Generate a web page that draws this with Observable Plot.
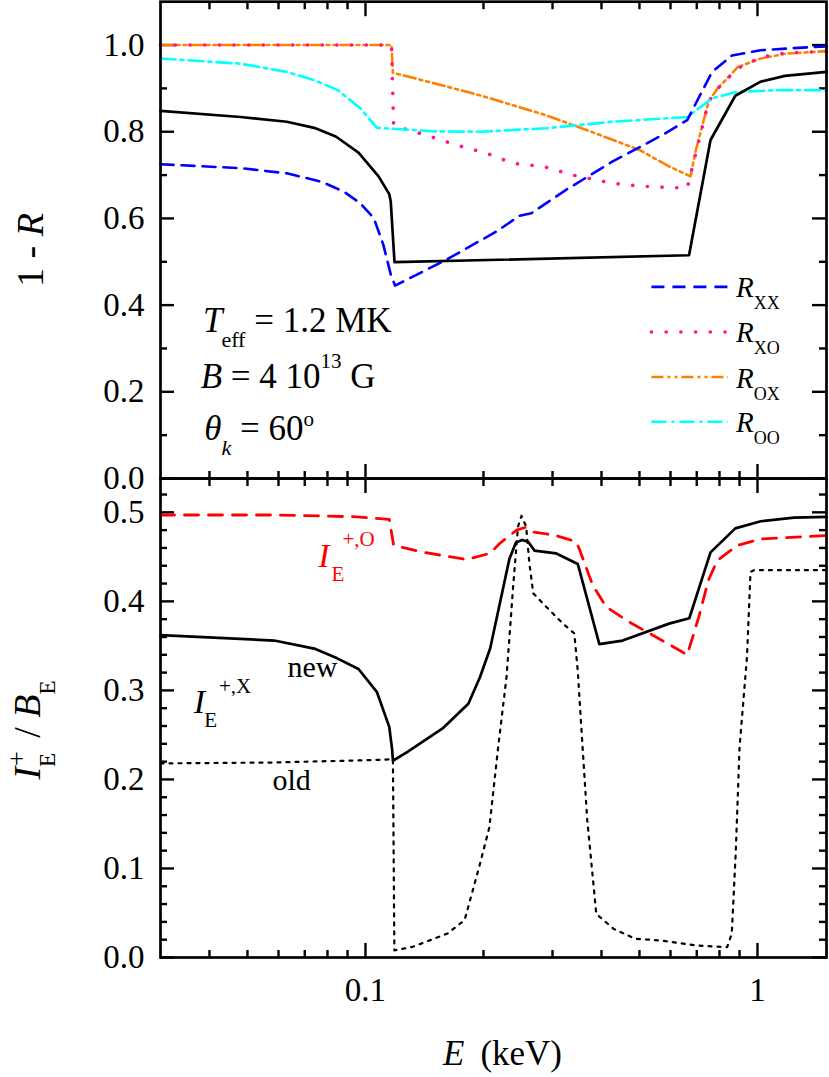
<!DOCTYPE html>
<html><head><meta charset="utf-8">
<script src="https://cdn.jsdelivr.net/npm/d3@7"></script>
<script src="https://cdn.jsdelivr.net/npm/@observablehq/plot@0.6"></script>
<style>
body{margin:0;background:#fff;}
#wrap{position:relative;width:829px;height:1077px;overflow:hidden;background:#fff;}
#wrap svg{position:absolute;left:0;}
</style></head><body><div id="wrap"></div>
<script>
const FONT = "Liberation Serif";

// ---- axes / ticks ----
const xDomain = [0.03, 1.5];
const xMajor = [0.1, 1];
const xMinor = [0.04,0.05,0.06,0.07,0.08,0.09,0.2,0.3,0.4,0.5,0.6,0.7,0.8,0.9];
const xLabels = ["0.1", "1"];
const topDomain = [0, 1.1];
const topMajor = [0, 0.2, 0.4, 0.6, 0.8, 1.0];
const topMinor = [0.1, 0.3, 0.5, 0.7, 0.9];
const topLabels = ["0.0", "0.2", "0.4", "0.6", "0.8", "1.0"];
const botDomain = [0, 0.538];
const botMajor = [0, 0.1, 0.2, 0.3, 0.4, 0.5];
const botMinor = [0.02,0.04,0.06,0.08,0.12,0.14,0.16,0.18,0.22,0.24,0.26,0.28,0.32,0.34,0.36,0.38,0.42,0.44,0.46,0.48,0.52];
const botLabels = ["0.0", "0.1", "0.2", "0.3", "0.4", "0.5"];

// ---- top panel: 1 - R ----
const E_tot = [0.03,0.048,0.063,0.074,0.084,0.096,0.108,0.115,0.116,0.1186,0.669,0.759,0.878,1.016,1.175,1.5];
const R_tot = [0.848,0.834,0.823,0.809,0.789,0.752,0.697,0.656,0.639,0.499,0.515,0.781,0.883,0.915,0.929,0.938];

const E_XX = [0.03,0.048,0.063,0.077,0.088,0.097,0.105,0.111,0.116,0.119,0.161,0.216,0.247,0.265,0.325,0.426,0.571,0.662,0.766,0.861,1.02,1.24,1.5];
const R_XX = [0.725,0.716,0.704,0.685,0.662,0.635,0.601,0.540,0.471,0.445,0.505,0.570,0.606,0.612,0.666,0.731,0.792,0.827,0.938,0.976,0.988,0.993,0.997];

const E_XO = [0.03,0.1165,0.118,0.121,0.143,0.171,0.204,0.238,0.284,0.338,0.426,0.509,0.662,0.708,0.75,0.79,0.89,1.02,1.18,1.5];
const R_XO = [1.0,1.0,0.815,0.811,0.792,0.769,0.750,0.727,0.720,0.700,0.681,0.674,0.670,0.777,0.869,0.899,0.946,0.972,0.982,0.985];

const E_OX = [0.03,0.1165,0.1175,0.133,0.196,0.289,0.387,0.5,0.595,0.675,0.695,0.75,0.79,0.89,1.02,1.18,1.5];
const R_OX = [1.0,1.0,0.936,0.924,0.884,0.838,0.796,0.758,0.720,0.697,0.754,0.869,0.899,0.949,0.969,0.980,0.986];

const E_OO = [0.03,0.048,0.063,0.074,0.085,0.097,0.107,0.149,0.196,0.289,0.426,0.662,0.766,0.885,1.13,1.5];
const R_OO = [0.969,0.957,0.938,0.919,0.896,0.854,0.809,0.801,0.800,0.808,0.823,0.834,0.877,0.892,0.896,0.896];

// ---- bottom panel: I_E^+ / B_E ----
const E_O = [0.03,0.0585,0.095,0.115,0.118,0.141,0.181,0.208,0.220,0.243,0.255,0.268,0.306,0.345,0.351,0.380,0.411,0.470,0.561,0.662,0.708,0.75,0.79,0.89,1.02,1.5];
const I_O = [0.497,0.497,0.495,0.492,0.463,0.455,0.447,0.454,0.465,0.480,0.483,0.478,0.474,0.467,0.459,0.418,0.394,0.377,0.358,0.340,0.382,0.424,0.446,0.463,0.470,0.474];

const E_Xnew = [0.03,0.0585,0.074,0.0847,0.096,0.107,0.115,0.117,0.1175,0.128,0.158,0.183,0.196,0.208,0.233,0.242,0.251,0.26,0.27,0.306,0.348,0.395,0.453,0.595,0.67,0.759,0.878,1.02,1.24,1.5];
const I_Xnew = [0.362,0.356,0.347,0.336,0.324,0.298,0.259,0.233,0.221,0.231,0.258,0.285,0.315,0.347,0.448,0.466,0.469,0.467,0.457,0.454,0.442,0.352,0.356,0.375,0.381,0.455,0.482,0.490,0.494,0.495];

const E_Xold = [0.03,0.058,0.110,0.1175,0.1185,0.132,0.162,0.179,0.194,0.207,0.218,0.229,0.238,0.245,0.250,0.257,0.262,0.268,0.289,0.319,0.341,0.348,0.358,0.368,0.388,0.43,0.488,0.57,0.70,0.837,0.86,0.88,0.90,0.94,0.96,0.98,1.5];
const I_Xold = [0.218,0.219,0.222,0.223,0.008,0.012,0.027,0.042,0.098,0.146,0.236,0.315,0.416,0.484,0.496,0.484,0.442,0.409,0.394,0.375,0.364,0.322,0.236,0.154,0.049,0.032,0.021,0.019,0.0135,0.0116,0.027,0.117,0.236,0.337,0.433,0.435,0.435];

// ---- legend ----
const legKeys = ["XX", "XO", "OX", "OO"];
const legY = [0.442, 0.338, 0.234, 0.131];
const legX = [0.538, 0.844];

const C = {XX: "#0000ff", XO: "#ff1493", OX: "#ff8000", OO: "#00ffff", O: "#ff0000"};
const DASH = {XX: "13,8", XO: "0.1,14.6", OX: "12,4,3,4,3,4", OO: "15,5,3,5"};
const CAP = {XX: "butt", XO: "round", OX: "butt", OO: "butt"};
const WID = {XX: 2.6, XO: 3.6, OX: 2.6, OO: 2.6};

const pts = (E, V) => E.map((e, i) => ({E: e, v: V[i]}));
const baseStyle = () => ({fontFamily: FONT, fontSize: "33px", overflow: "visible", background: "transparent", color: "black"});

// tick marks as Plot marks: short rules, lengths converted from pixels through the scales
function tickMarks(yScaleDomain, yMajor, yMinor, heightPx, yTopPx) {
  const xs = d3.scaleLog().domain(xDomain).range([160, 826]);
  const ys = d3.scaleLinear().domain(yScaleDomain).range([heightPx, yTopPx]);
  const dxIn = px => xs.invert(160 + px), dxInR = px => xs.invert(826 - px);
  const dyUp = px => ys.invert(heightPx - px), dyDn = px => ys.invert(yTopPx + px);
  const o = {stroke: "black", strokeWidth: 2.4};
  const marks = [];
  for (const [vals, len] of [[yMajor, 14], [yMinor, 7]]) {
    marks.push(Plot.ruleY(vals, {y: d => d, x1: xDomain[0], x2: dxIn(len), ...o}));
    marks.push(Plot.ruleY(vals, {y: d => d, x1: dxInR(len), x2: xDomain[1], ...o}));
  }
  for (const [vals, lt, lb] of [[xMajor, 15, 14], [xMinor, 8, 7]]) {
    marks.push(Plot.ruleX(vals, {x: d => d, y1: yScaleDomain[1], y2: dyDn(lt), ...o}));
    marks.push(Plot.ruleX(vals, {x: d => d, y1: yScaleDomain[0], y2: dyUp(lb), ...o}));
  }
  return marks;
}

const topChart = Plot.plot({
  width: 829, height: 480,
  marginLeft: 160, marginRight: 3, marginTop: 1.2, marginBottom: 2,
  style: baseStyle(),
  x: {type: "log", domain: xDomain, label: null, axis: null},
  y: {domain: topDomain, label: null, axis: null},
  marks: [
    ...tickMarks(topDomain, topMajor, topMinor, 478, 1.2),
    Plot.text(topMajor, {y: d => d, frameAnchor: "left", dx: -16, textAnchor: "end", text: d => topLabels[topMajor.indexOf(d)], fontSize: 33, fontFamily: FONT, fill: "black"}),
    Plot.line(pts(E_OX, R_OX), {x: "E", y: "v", stroke: C.OX, strokeWidth: WID.OX, strokeDasharray: DASH.OX}),
    Plot.line(pts(E_XO, R_XO), {x: "E", y: "v", stroke: C.XO, strokeWidth: WID.XO, strokeDasharray: DASH.XO, strokeLinecap: "round"}),
    Plot.line(pts(E_OO, R_OO), {x: "E", y: "v", stroke: C.OO, strokeWidth: WID.OO, strokeDasharray: DASH.OO}),
    Plot.line(pts(E_XX, R_XX), {x: "E", y: "v", stroke: C.XX, strokeWidth: WID.XX, strokeDasharray: DASH.XX}),
    Plot.line(pts(E_tot, R_tot), {x: "E", y: "v", stroke: "black", strokeWidth: 2.7}),
    ...legKeys.map((k, i) => Plot.ruleY([legY[i]], {x1: legX[0], x2: legX[1], stroke: C[k], strokeWidth: WID[k], strokeDasharray: DASH[k], strokeLinecap: CAP[k]})),
    Plot.frame({stroke: "black", strokeWidth: 2.7})
  ]
});

const botChart = Plot.plot({
  width: 829, height: 601,
  marginLeft: 160, marginRight: 3, marginTop: 2, marginBottom: 120,
  style: baseStyle(),
  x: {type: "log", domain: xDomain, label: null, axis: null},
  y: {domain: botDomain, label: null, axis: null},
  marks: [
    ...tickMarks(botDomain, botMajor, botMinor, 481, 2),
    Plot.text(botMajor, {y: d => d, frameAnchor: "left", dx: -16, textAnchor: "end", text: d => botLabels[botMajor.indexOf(d)], fontSize: 33, fontFamily: FONT, fill: "black"}),
    Plot.text(xMajor, {x: d => d, frameAnchor: "bottom", dy: 43, text: d => xLabels[xMajor.indexOf(d)], fontSize: 33, fontFamily: FONT, fill: "black"}),
    Plot.line(pts(E_Xold, I_Xold), {x: "E", y: "v", stroke: "black", strokeWidth: 2.2, strokeDasharray: "3,6"}),
    Plot.line(pts(E_O, I_O), {x: "E", y: "v", stroke: C.O, strokeWidth: 2.8, strokeDasharray: "14,10"}),
    Plot.line(pts(E_Xnew, I_Xnew), {x: "E", y: "v", stroke: "black", strokeWidth: 2.7}),
    Plot.frame({stroke: "black", strokeWidth: 2.7})
  ]
});

topChart.style.top = "0px";
botChart.style.top = "476px";
const wrap = document.getElementById("wrap");
wrap.append(topChart, botChart);

// ---- rich text helper ----
function addText(svg, x, y, pieces, opts = {}) {
  const t = d3.select(svg).append("text")
    .attr("x", x).attr("y", y)
    .attr("fill", opts.color || "black")
    .attr("font-family", FONT)
    .attr("text-anchor", opts.anchor || "start")
    .style("white-space", "pre");
  if (opts.rotate) t.attr("transform", `rotate(${opts.rotate},${x},${y})`);
  for (const p of pieces) {
    const s = t.append("tspan").text(p.t).attr("font-size", p.s || 35).attr("font-family", FONT);
    if (p.i) s.attr("font-style", "italic");
    if (p.dx) s.attr("dx", p.dx);
    if (p.dy) s.attr("dy", p.dy);
  }
  return t;
}
const tx = topChart.scale("x"), ty = topChart.scale("y");
const bx = botChart.scale("x"), by = botChart.scale("y");

// annotations (data coordinates)
const annoTop = [
  {E: 0.0386, v: 0.336, pieces: [{t: "T", i: 1}, {t: "eff", s: 22, dy: 15, dx: -1}, {t: " = 1.2 MK", dy: -15}]},
  {E: 0.0381, v: 0.207, pieces: [{t: "B", i: 1}, {t: " = 4 10"}, {t: "13", s: 21, dy: -20}, {t: " G", dy: 20}]},
  {E: 0.0389, v: 0.0874, pieces: [{t: "θ", i: 1}, {t: "k", s: 22, i: 1, dy: 15}, {t: " = 60", dy: -15}, {t: "o", s: 21, dy: -14}]}
];
for (const a of annoTop) addText(topChart, tx.apply(a.E), ty.apply(a.v), a.pieces);

legKeys.forEach((k, i) => {
  addText(topChart, tx.apply(legX[1]) + 8, ty.apply(legY[i]) + 11, [{t: "R", s: 29, i: 1}, {t: k, s: 18, dy: 12}]);
});

const annoBot = [
  {E: 0.0760, v: 0.438, color: "#ff0000", pieces: [{t: "I", s: 34, i: 1}, {t: "E", s: 21, dy: 14, dx: 2}, {t: "+,O", s: 21, dy: -35, dx: -2}]},
  {E: 0.0366, v: 0.274, color: "black", pieces: [{t: "I", s: 34, i: 1}, {t: "E", s: 21, dy: 14, dx: -1}, {t: "+,X", s: 21, dy: -34, dx: 2}]},
  {E: 0.0634, v: 0.3146, color: "black", pieces: [{t: "new", s: 30}]},
  {E: 0.0581, v: 0.1876, color: "black", pieces: [{t: "old", s: 30}]}
];
for (const a of annoBot) addText(botChart, bx.apply(a.E), by.apply(a.v), a.pieces, {color: a.color});

// axis titles
addText(topChart, 43, 250, [{t: "1 - ", s: 38}, {t: "R", s: 38, i: 1}], {anchor: "middle", rotate: -90});
addText(botChart, 40, 254, [{t: "I", s: 38, i: 1}, {t: "E", s: 23, dy: 15}, {t: "+", s: 26, dy: -30, dx: -13}, {t: " / ", s: 38, dy: 15, dx: 4}, {t: "B", s: 38, i: 1}, {t: "E", s: 23, dy: 15}], {anchor: "middle", rotate: -90});
addText(botChart, 443, 589, [{t: "E", s: 35, i: 1}, {t: "(keV)", s: 35, dx: 16}]);

// force serif on every text leaf
for (const svg of [topChart, botChart]) d3.select(svg).selectAll("text, tspan").attr("font-family", FONT);
</script></body></html>
